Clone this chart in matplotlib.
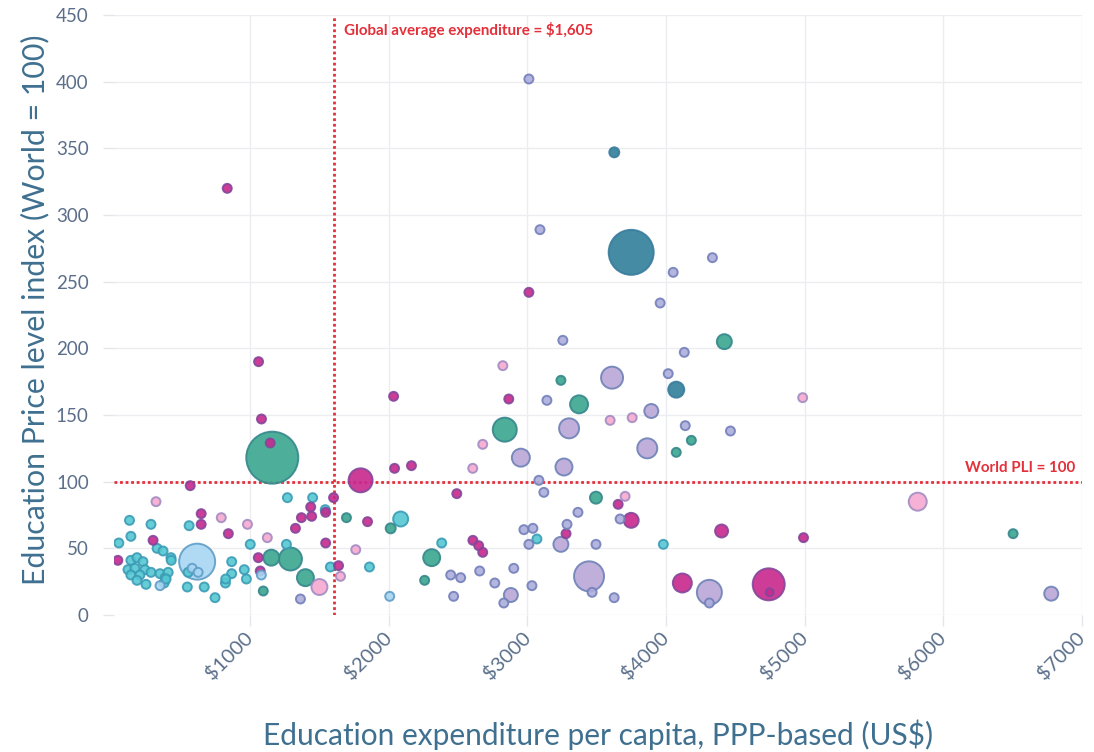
import matplotlib
matplotlib.use("Agg")
import matplotlib.pyplot as plt
import matplotlib.transforms as mtransforms
import numpy as np

# ---------------- data ----------------
# groups: cyan, green, dteal, magenta, pink, lavender, periwinkle, lightblue
cyan_x = [129, 284, 139, 52, 328, 371, 428, 139, 183, 226, 118, 168, 240, 284, 139, 204, 183, 248,
          349, 386, 408, 379, 559, 1000, 1261, 1268, 1450, 1541, 972, 866, 866, 821, 957, 746, 546,
          668, 552, 393, 430, 1578, 1860, 2085, 2381, 3068, 3980, 823]
cyan_y = [71, 68, 59, 54, 50, 48, 43, 41, 43, 40, 34, 35, 34, 32, 30, 30, 26, 23,
          31, 28, 32, 24, 67, 53, 53, 88, 88, 79, 27, 40, 31, 24, 34, 13, 21,
          21, 32, 27, 41, 36, 36, 72, 54, 57, 53, 27]
cyan_s = [4.5] * 41 + [7.5, 4.5, 4.5, 4.5, 4.5]

green_x = [1159, 1152, 1290, 1398, 1094, 1694, 2013, 2309, 2258, 3494, 2836, 3372, 3241, 4420, 4182, 4073, 6503]
green_y = [118, 43, 42, 28, 18, 73, 65, 43, 26, 88, 139, 158, 176, 205, 131, 122, 61]
green_s = [26, 8, 11.5, 8.5, 4.5, 4.5, 5, 8.5, 4.5, 6, 12, 9, 4.5, 7.5, 4.5, 4.5, 4.5]

dteal_x = [3748, 3626, 4073]
dteal_y = [272, 347, 169]
dteal_s = [22.5, 5, 8]

mag_x = [834, 1060, 1081, 1144, 1796, 2034, 2865, 3010, 2041, 2163, 2490, 3654, 3278, 3748, 4400, 4991,
         2606, 2648, 2677, 4117, 4740, 4747, 567, 299, 45, 646, 646, 842, 1058, 1072, 1436, 1369, 1443,
         1326, 1544, 1601, 1544, 1637, 1846]
mag_y = [320, 190, 147, 129, 101, 164, 162, 242, 110, 112, 91, 83, 61, 71, 63, 58,
         56, 52, 47, 24, 23, 17, 97, 56, 41, 76, 68, 61, 43, 33, 81, 73, 74,
         65, 77, 88, 54, 37, 70]
mag_s = [4.5, 4.5, 4.5, 4.5, 12, 4.5, 4.5, 4.5, 4.5, 4.5, 4.5, 4.5, 4.5, 7.5, 6.5, 4.5,
         4.5, 4.5, 4.5, 9.5, 16, 4, 4.5, 4.5, 4.5, 4.5, 4.5, 4.5, 4.5, 4.5, 4.5, 4.5, 4.5,
         4.5, 4.5, 4.5, 4.5, 4.5, 4.5]

pink_x = [320, 791, 980, 1123, 1499, 1651, 1761, 2822, 2677, 2605, 3704, 4985, 3755, 3596, 5815]
pink_y = [85, 73, 68, 58, 21, 29, 49, 187, 128, 110, 89, 163, 148, 146, 85]
pink_s = [4.5, 4.5, 4.5, 4.5, 8, 4.5, 4.5, 4.5, 4.5, 4.5, 4.5, 4.5, 4.5, 4.5, 9]

lav_x = [3610, 3864, 3300, 2952, 3263, 3241, 3444, 4312, 2880, 3893, 6778]
lav_y = [178, 125, 140, 118, 111, 53, 29, 17, 15, 153, 16]
lav_s = [11, 10, 10, 9, 8.5, 7.5, 15, 12.5, 7, 7, 7]

peri_x = [3010, 3090, 4334, 4051, 3957, 3255, 4131, 4015, 4138, 4464, 3140, 3082, 3118, 3364, 3285, 3668,
          2974, 3039, 3010, 3494, 2446, 2518, 2655, 2901, 2764, 3032, 2467, 2829, 3466, 3625, 4312, 1362]
peri_y = [402, 289, 268, 257, 234, 206, 197, 181, 142, 138, 161, 101, 92, 77, 68, 72,
          64, 65, 53, 53, 30, 28, 33, 35, 24, 22, 14, 9, 17, 13, 9, 12]
peri_s = [4.5] * 32

lblue_x = [617, 581, 624, 1080, 349, 2006]
lblue_y = [40, 35, 32, 30, 22, 14]
lblue_s = [18, 4.5, 4.5, 4.5, 4.5, 4.5]

x_ticks = [1000, 2000, 3000, 4000, 5000, 6000, 7000]
x_tick_labels = ["$1000", "$2000", "$3000", "$4000", "$5000", "$6000", "$7000"]
y_ticks = [0, 50, 100, 150, 200, 250, 300, 350, 400, 450]

global_avg = 1605
world_pli = 100

# ---------------- styling ----------------
groups = [
    (cyan_x, cyan_y, cyan_s, "#55c8d2", "#3b9cb6"),
    (green_x, green_y, green_s, "#3aa78e", "#36878c"),
    (dteal_x, dteal_y, dteal_s, "#2f7f99", "#3a7c9e"),
    (mag_x, mag_y, mag_s, "#c8288d", "#83479a"),
    (pink_x, pink_y, pink_s, "#f6a9d1", "#a28cc2"),
    (lav_x, lav_y, lav_s, "#baa7d7", "#6e82b6"),
    (peri_x, peri_y, peri_s, "#adaedd", "#7380b9"),
    (lblue_x, lblue_y, lblue_s, "#a8d6f3", "#5f9dc6"),
]

xs, ys, rs, fcs, ecs = [], [], [], [], []
for gx, gy, gs, fc, ec in groups:
    for a, b, c in zip(gx, gy, gs):
        xs.append(a); ys.append(b); rs.append(c); fcs.append(fc); ecs.append(ec)
order = np.argsort(-np.array(rs), kind="stable")
xs = np.array(xs)[order]; ys = np.array(ys)[order]; rs = np.array(rs)[order]
fcs = [fcs[i] for i in order]; ecs = [ecs[i] for i in order]

plt.rcParams['font.family'] = ['Lato', 'DejaVu Sans']

fig = plt.figure(figsize=(10.94, 7.52), dpi=100)
ax = fig.add_axes([113.7 / 1094, 1 - 615 / 752, (1082 - 113.7) / 1094, 600 / 752])

ax.set_xlim(15, 7000)
ax.set_ylim(0, 450)

ax.scatter(xs, ys, s=(1.44 * rs) ** 2, c=fcs, edgecolors=ecs, linewidths=1.4,
           alpha=0.9, zorder=3)

red = "#e3303a"
ax.axvline(global_avg, color=red, linestyle=(0, (1, 1)), lw=2, zorder=2)
ax.axhline(world_pli, color=red, linestyle=(0, (1, 1)), lw=2, zorder=2)
ax.text(global_avg + 70, 439, "Global average expenditure = $1,605", color=red,
        fontsize=10.9, fontweight="bold", ha="left", va="center", zorder=4)
ax.text(6951, 110, "World PLI = 100", color=red, fontsize=10.9, fontweight="bold",
        ha="right", va="center", zorder=4)

ax.set_xticks(x_ticks)
ax.set_xticklabels(x_tick_labels, rotation=45, ha="right", va="center",
                   rotation_mode="anchor")
offset = mtransforms.ScaledTranslation(14 / 100, -8 / 100, fig.dpi_scale_trans)
for lbl in ax.get_xticklabels():
    lbl.set_transform(lbl.get_transform() + offset)
ax.set_yticks(y_ticks)
ax.grid(True, color="#ebedf0", lw=1, zorder=0)
ax.set_axisbelow(True)
for sp in ax.spines.values():
    sp.set_visible(False)
ax.tick_params(axis="both", colors="#e3e6ea", length=8, width=1,
               labelcolor="#5b6f8a", labelsize=13.5)
ax.tick_params(axis="x", labelsize=14.5, pad=6)
ax.tick_params(axis="y", pad=10)

title_color = "#3f7090"
ax.set_xlabel("Education expenditure per capita, PPP-based (US$)", fontsize=21.5, color=title_color)
ax.xaxis.set_label_coords(0.5, -0.2)
ax.xaxis.label.set_va("center")
ax.set_ylabel("Education Price level index (World = 100)", fontsize=21.8, color=title_color)
ax.yaxis.set_label_coords(-0.081, 0.508)
ax.yaxis.label.set_va("center")

fig.savefig("out.png", dpi=100)
